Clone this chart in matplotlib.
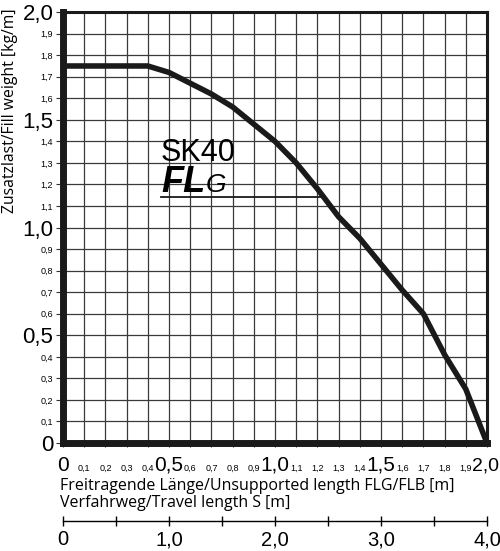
import numpy as np
import matplotlib
matplotlib.use("Agg")
import matplotlib.pyplot as plt
import matplotlib.transforms as mtransforms

# data
flg = [0.0, 0.4, 0.5, 0.6, 0.7, 0.8, 0.9, 1.0, 1.1, 1.2, 1.3, 1.4, 1.5, 1.6, 1.7, 1.8, 1.9, 2.0]
fill = [1.75, 1.75, 1.72, 1.67, 1.62, 1.56, 1.48, 1.40, 1.30, 1.18, 1.05, 0.95, 0.83, 0.71, 0.60, 0.41, 0.25, 0.0]

label_y = 1.143        # underline of the SK40 label
label_x0 = 0.46

x_ticks = [i / 10 for i in range(21)]
y_ticks = [i / 10 for i in range(21)]
s_ticks = [0, 0.5, 1, 1.5, 2, 2.5, 3, 3.5, 4]
s_labels = ["0", "", "1,0", "", "2,0", "", "3,0", "", "4,0"]

FONT = "Liberation Sans"
TXT = "Open Sans"


def fmt(v):
    if v == 0:
        return "0"
    return f"{v:.1f}".replace(".", ",")


fig = plt.figure(figsize=(5.0, 5.51), dpi=100)
ax = fig.add_axes([0.126, 0.196, 0.848, 0.782])

ax.set_xlim(0, 2.0)
ax.set_ylim(0, 2.0)

for v in x_ticks[1:-1]:
    ax.axvline(v, color="#3a3a3a", lw=0.9, zorder=1)
for v in y_ticks[1:-1]:
    ax.axhline(v, color="#3a3a3a", lw=0.9, zorder=1)

ax.plot(flg, fill, color="#1a1a1a", lw=4.0, solid_joinstyle="round",
        solid_capstyle="butt", zorder=3)

# x of the curve at label height
xi = np.interp(label_y, fill[::-1], flg[::-1])
ax.plot([label_x0, xi], [label_y, label_y], color="#1a1a1a", lw=1.3, zorder=3)
ax.text(label_x0, 1.31, "SK40", fontsize=22, family=FONT, ha="left", va="baseline", zorder=4)
ax.text(label_x0 + 0.005, 1.165, "FL", fontsize=26, family=FONT, fontweight="bold",
        style="italic", ha="left", va="baseline", zorder=4)
ax.text(label_x0 + 0.215, 1.165, "G", fontsize=19, family=FONT, style="italic",
        ha="left", va="baseline", zorder=4)

for side in ["left", "bottom"]:
    ax.spines[side].set_linewidth(5)
    ax.spines[side].set_color("#1a1a1a")
for side in ["top", "right"]:
    ax.spines[side].set_linewidth(2.2)
    ax.spines[side].set_color("#1a1a1a")

ax.set_xticks(x_ticks)
ax.set_xticklabels([fmt(v) for v in x_ticks], family=FONT)
ax.set_yticks(y_ticks)
ax.set_yticklabels([fmt(v) for v in y_ticks], family=FONT)
ax.tick_params(axis="x", length=3, width=0.8, pad=17, color="#333333")
ax.tick_params(axis="y", length=5, width=0.8, pad=2, color="#333333")
for lbl, v in zip(ax.get_xticklabels(), x_ticks):
    lbl.set_fontsize(15 if round(v * 10) % 5 == 0 else 6.5)
    lbl.set_va("baseline")
for lbl, v in zip(ax.get_yticklabels(), y_ticks):
    lbl.set_fontsize(16 if round(v * 10) % 5 == 0 else 6.5)

# keep the last big label inside the picture
last = ax.get_xticklabels()[-1]
last.set_fontsize(14)
last.set_transform(last.get_transform() +
                   mtransforms.ScaledTranslation(-1 / 72, 0, fig.dpi_scale_trans))

fig.text(0.12, 0.118, "Freitragende Länge/Unsupported length FLG/FLB [m]",
         fontsize=11.5, family=TXT, ha="left", va="center")
fig.text(0.12, 0.087, "Verfahrweg/Travel length S [m]",
         fontsize=11.5, family=TXT, ha="left", va="center")
fig.text(0.02, 0.80, "Zusatzlast/Fill weight [kg/m]", fontsize=11.3, family=TXT,
         rotation=90, ha="center", va="center")

# secondary travel length scale
ax2 = fig.add_axes([0.126, 0.054, 0.848, 0.001])
ax2.set_xlim(0, 4)
ax2.set_yticks([])
for side in ["left", "right", "top"]:
    ax2.spines[side].set_visible(False)
ax2.spines["bottom"].set_linewidth(1.0)
ax2.set_xticks(s_ticks)
ax2.set_xticklabels(s_labels, fontsize=14.5, family=FONT)
ax2.tick_params(axis="x", direction="inout", length=7, width=1.0, pad=3)
ax2.patch.set_visible(False)

plt.savefig("out.png", dpi=100)
plt.close()
